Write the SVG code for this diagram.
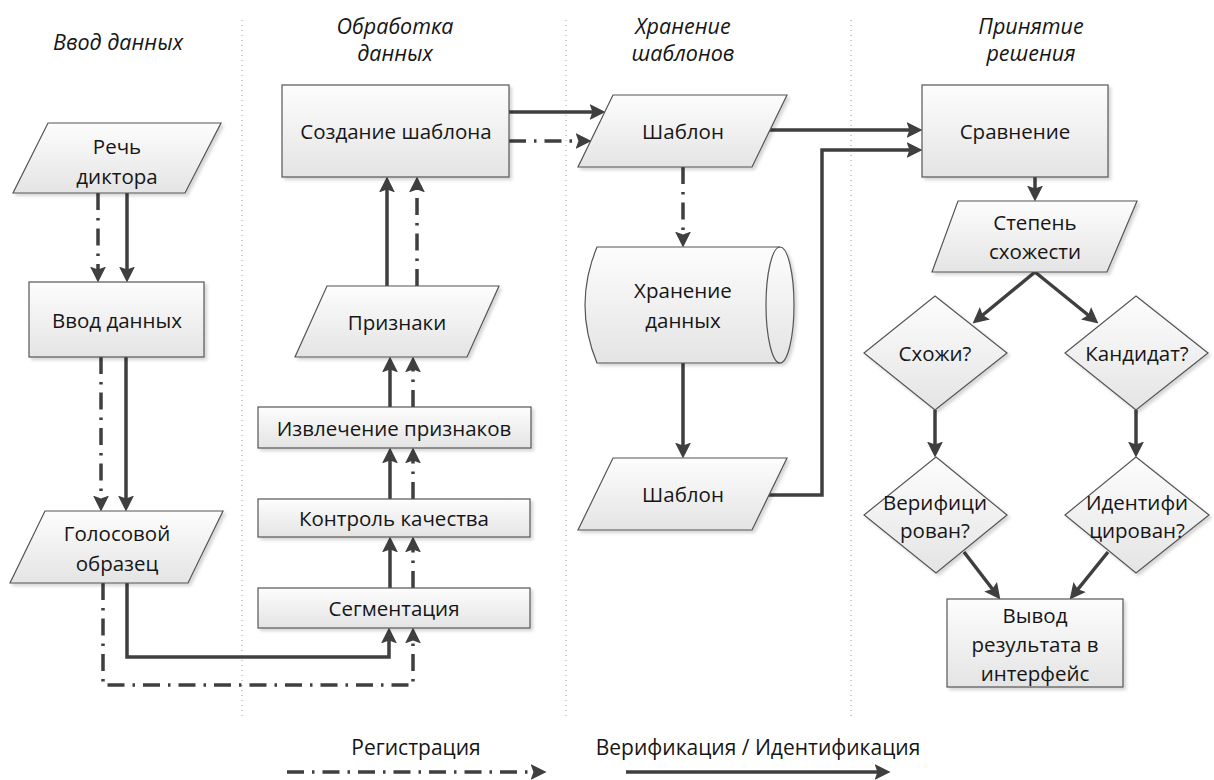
<svg xmlns="http://www.w3.org/2000/svg" width="1214" height="780" viewBox="0 0 1214 780">
  <defs>
    <linearGradient id="nodeFill" x1="0" y1="0" x2="0" y2="1">
      <stop offset="0" stop-color="#fdfdfd"/>
      <stop offset="1" stop-color="#e4e4e4"/>
    </linearGradient>
    <filter id="shadow" x="-10%" y="-10%" width="130%" height="130%">
      <feDropShadow dx="2.5" dy="2.5" stdDeviation="1.5" flood-color="#000" flood-opacity="0.16"/>
    </filter>
    <marker id="arrow" markerUnits="userSpaceOnUse" markerWidth="16" markerHeight="16" viewBox="0 0 14 14" refX="10" refY="7" orient="auto">
      <path d="M0,0 L14,7 L0,14 L2.5,7 z" fill="#3f3f3f"/>
    </marker>
    <style>
      .node { fill: url(#nodeFill); stroke: #555; stroke-width: 1.2; filter: url(#shadow); }
      .lbl { font-family: "Open Sans", "Noto Sans", sans-serif; font-size: 20.5px; fill: #161616; text-anchor: middle; dominant-baseline: central; }
      .head { font-family: "Open Sans", "Noto Sans", sans-serif; font-size: 21.5px; font-style: italic; fill: #161616; text-anchor: middle; dominant-baseline: central; }
      .key { font-family: "Open Sans", "Noto Sans", sans-serif; font-size: 21px; fill: #161616; text-anchor: middle; dominant-baseline: central; }
      .sep { stroke: #9a9a9a; stroke-width: 1; stroke-dasharray: 1 4; fill: none; }
      .vi { fill: none; stroke: #3f3f3f; stroke-width: 3.5; marker-end: url(#arrow); }
      .reg { fill: none; stroke: #3f3f3f; stroke-width: 3.5; stroke-dasharray: 17 8 2.5 8; marker-end: url(#arrow); }
    </style>
  </defs>

  <rect width="1214" height="780" fill="#ffffff"/>

  <!-- lane separators -->
  <g id="lanes">
    <line class="sep" x1="242" y1="20" x2="242" y2="716"/>
    <line class="sep" x1="566" y1="20" x2="566" y2="716"/>
    <line class="sep" x1="851" y1="20" x2="851" y2="716"/>
  </g>

  <!-- lane headings -->
  <g id="headings">
    <text class="head" x="118" y="41">Ввод данных</text>
    <text class="head" x="395" y="25">Обработка</text>
    <text class="head" x="395" y="52">данных</text>
    <text class="head" x="683" y="25">Хранение</text>
    <text class="head" x="683" y="52">шаблонов</text>
    <text class="head" x="1031" y="25">Принятие</text>
    <text class="head" x="1031" y="52">решения</text>
  </g>

  <!-- connectors -->
  <g id="connectors">
    <!-- verification / identification flow -->
    <path class="vi" d="M127,193 V278"/>
    <path class="vi" d="M126,357 V507"/>
    <path class="vi" d="M127,583 V657 H389 V632"/>
    <path class="vi" d="M390,588 V541"/>
    <path class="vi" d="M390,499 V452"/>
    <path class="vi" d="M390,407 V361"/>
    <path class="vi" d="M387,286 V181"/>
    <path class="vi" d="M509,112 H601"/>
    <path class="vi" d="M768,130 H918"/>
    <path class="vi" d="M683,362 V454"/>
    <path class="vi" d="M768,495 H822 V150 H918"/>
    <path class="vi" d="M1035,177 V197"/>
    <path class="vi" d="M1035,272 L976.1,320.5"/>
    <path class="vi" d="M1035,272 L1094.9,320.5"/>
    <path class="vi" d="M935,410 V453"/>
    <path class="vi" d="M1136,410 V453"/>
    <path class="vi" d="M964,552 L997.6,595.8"/>
    <path class="vi" d="M1108,552 L1072.5,595.9"/>
    <!-- registration flow -->
    <path class="reg" d="M98,193 V278"/>
    <path class="reg" d="M101,357 V507"/>
    <path class="reg" d="M103,583 V685 H413 V632"/>
    <path class="reg" d="M413,588 V541"/>
    <path class="reg" d="M413,499 V452"/>
    <path class="reg" d="M413,407 V361"/>
    <path class="reg" d="M417,286 V181"/>
    <path class="reg" d="M509,141 H587"/>
    <path class="reg" d="M683,167 V243"/>
  </g>

  <!-- data input lane -->
  <g id="speech">
    <polygon class="node" points="48,123 221,123 185,193 13,193"/>
    <text class="lbl" x="117" y="146">Речь</text>
    <text class="lbl" x="117" y="176">диктора</text>
  </g>
  <g id="input">
    <rect class="node" x="29" y="282" width="175" height="75"/>
    <text class="lbl" x="117" y="320">Ввод данных</text>
  </g>
  <g id="voice-sample">
    <polygon class="node" points="45,511 223,511 188,583 10,583"/>
    <text class="lbl" x="117" y="533">Голосовой</text>
    <text class="lbl" x="117" y="563">образец</text>
  </g>

  <!-- processing lane -->
  <g id="segmentation">
    <rect class="node" x="258" y="588" width="272" height="40"/>
    <text class="lbl" x="394" y="608">Сегментация</text>
  </g>
  <g id="quality">
    <rect class="node" x="258" y="499" width="272" height="38"/>
    <text class="lbl" x="394" y="518">Контроль качества</text>
  </g>
  <g id="extraction">
    <rect class="node" x="258" y="407" width="273" height="41"/>
    <text class="lbl" x="394" y="428">Извлечение признаков</text>
  </g>
  <g id="features">
    <polygon class="node" points="327,286 499,286 467,357 295,357"/>
    <text class="lbl" x="397" y="322">Признаки</text>
  </g>
  <g id="template-build">
    <rect class="node" x="282" y="85" width="227" height="92"/>
    <text class="lbl" x="396" y="131">Создание шаблона</text>
  </g>

  <!-- storage lane -->
  <g id="template-top">
    <polygon class="node" points="613,95 787,95 752,167 578,167"/>
    <text class="lbl" x="683" y="131">Шаблон</text>
  </g>
  <g id="storage">
    <path class="node" d="M597,247 H780 A14,58 0 0 1 780,363 H597 Q573,305 597,247 Z"/>
    <path d="M780,247 A14,58 0 0 0 780,363" fill="none" stroke="#555" stroke-width="1.2"/>
    <text class="lbl" x="683" y="290">Хранение</text>
    <text class="lbl" x="683" y="320">данных</text>
  </g>
  <g id="template-bottom">
    <polygon class="node" points="613,458 787,458 752,530 578,530"/>
    <text class="lbl" x="683" y="494">Шаблон</text>
  </g>

  <!-- decision lane -->
  <g id="compare">
    <rect class="node" x="922" y="85" width="186" height="92"/>
    <text class="lbl" x="1015" y="131">Сравнение</text>
  </g>
  <g id="similarity">
    <polygon class="node" points="958,201 1137,201 1107,272 932,272"/>
    <text class="lbl" x="1035" y="222">Степень</text>
    <text class="lbl" x="1035" y="251">схожести</text>
  </g>
  <g id="similar">
    <polygon class="node" points="935,296 1007,353 935,410 864,353"/>
    <text class="lbl" x="935" y="353">Схожи?</text>
  </g>
  <g id="candidate">
    <polygon class="node" points="1136,296 1208,353 1136,410 1065,353"/>
    <text class="lbl" x="1137" y="353">Кандидат?</text>
  </g>
  <g id="verified">
    <polygon class="node" points="936,457 1007,515 936,573 864,515"/>
    <text class="lbl" x="935" y="502">Верифици</text>
    <text class="lbl" x="935" y="530">рован?</text>
  </g>
  <g id="identified">
    <polygon class="node" points="1136,457 1209,515 1136,573 1065,515"/>
    <text class="lbl" x="1137" y="502">Идентифи</text>
    <text class="lbl" x="1137" y="530">цирован?</text>
  </g>
  <g id="output">
    <rect class="node" x="947" y="599" width="176" height="88"/>
    <text class="lbl" x="1035" y="615">Вывод</text>
    <text class="lbl" x="1035" y="644">результата в</text>
    <text class="lbl" x="1035" y="673">интерфейс</text>
  </g>

  <!-- legend -->
  <g id="legend">
    <text class="key" x="416" y="747">Регистрация</text>
    <text class="key" x="758" y="747">Верификация / Идентификация</text>
    <path class="reg" d="M287,772 H542"/>
    <path class="vi" d="M626,772 H886"/>
  </g>
</svg>
